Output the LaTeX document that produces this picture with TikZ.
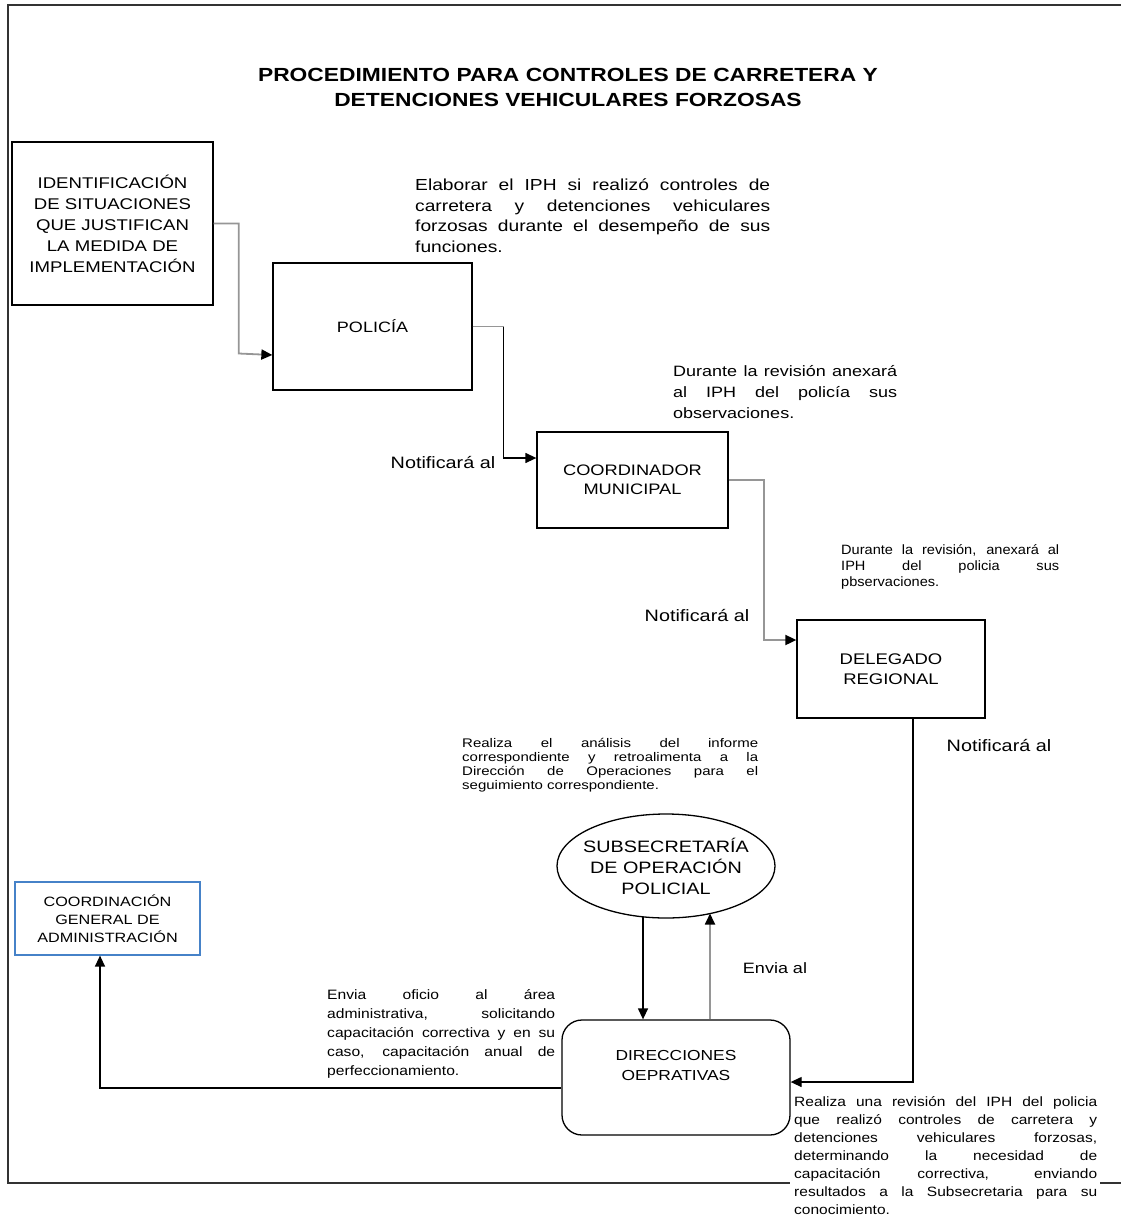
\documentclass[tikz,border=0pt]{standalone}
\usepackage{fontspec}
\setmainfont[FakeStretch=1.2]{Liberation Sans}
\newfontfamily\fb[FakeStretch=1.15]{Liberation Sans}
\newfontfamily\fc[FakeStretch=1.08]{Liberation Sans}
\usetikzlibrary{shapes.geometric,arrows.meta,calc}
\definecolor{conngray}{RGB}{150,150,150}
\definecolor{cgablue}{RGB}{70,130,200}
\hyphenpenalty=10000
\exhyphenpenalty=10000
\tolerance=9999
\hbadness=10000
\begin{document}
\begin{tikzpicture}[x=1pt,y=-1pt,
  box/.style={draw, line width=1.3pt, align=center, inner sep=0pt, font=\fontsize{15}{20}\selectfont},
  note/.style={anchor=north west, inner sep=0pt, align=justify},
  lbl/.style={inner sep=0pt, font=\fontsize{16.5}{19}\selectfont},
  tip/.style={-{Triangle[length=11pt,width=10pt,color=black]}},
  gline/.style={draw=conngray, line width=1.8pt},
  bline/.style={draw=black, line width=1.3pt}]
\useasboundingbox (0,0) rectangle (1120,1220);
% frame
\draw[line width=1.6pt, black!80] (1125,5) -- (8,5) -- (8,1183) -- (790,1183);
\draw[line width=1.6pt, black!80] (1100,1183) -- (1125,1183);
% title
\node[inner sep=0pt, align=center, font=\fontsize{19}{25}\bfseries] (title) at (568,87)
  {PROCEDIMIENTO PARA CONTROLES DE CARRETERA Y\\DETENCIONES VEHICULARES FORZOSAS};
% boxes
\node[box, minimum width=201pt, minimum height=163pt, font=\fontsize{15.5}{21}\selectfont] (ident) at (112.5,223.5)
  {IDENTIFICACIÓN\\DE SITUACIONES\\QUE JUSTIFICAN\\LA MEDIDA DE\\IMPLEMENTACIÓN};
\node[box, minimum width=199pt, minimum height=127pt] (pol) at (372.5,326.5) {POLICÍA};
\node[box, minimum width=191pt, minimum height=96pt, font=\fontsize{15.2}{19}\selectfont] (coord) at (632.5,480) {COORDINADOR\\MUNICIPAL};
\node[box, minimum width=188pt, minimum height=98pt, font=\fontsize{15.4}{20}\selectfont] (deleg) at (891,669) {DELEGADO\\REGIONAL};
\node[box, ellipse, inner xsep=-6pt, inner ysep=0pt, minimum width=218pt, minimum height=104pt, font=\fontsize{16.5}{21}\selectfont] (subs) at (666,866)
  {SUBSECRETARÍA\\DE OPERACIÓN\\POLICIAL};
\node[box, rounded corners=20pt, minimum width=228pt, minimum height=115pt, font=\fontsize{14.5}{20}\selectfont] (direc) at (676,1077.5)
  {DIRECCIONES\\OEPRATIVAS\\[4pt]};
\node[box, draw=cgablue, line width=1.2pt, minimum width=185pt, minimum height=73pt, font=\fontsize{13.5}{18}\selectfont] (cga) at (107.5,918.5)
  {COORDINACIÓN\\GENERAL DE\\ADMINISTRACIÓN};
% notes
\node[note, text width=355pt, font=\fontsize{16}{20.5}\selectfont] (n1) at (415,179)
  {Elaborar el IPH si realizó controles de\linebreak carretera y detenciones vehiculares\linebreak forzosas durante el desempeño de sus\linebreak funciones.};
\node[note, text width=224pt, font=\fontsize{15}{21}\selectfont] (n2) at (673,365)
  {Durante la revisión anexará\linebreak al IPH del policía sus\linebreak observaciones.};
\node[note, text width=218pt, font=\fc\fontsize{13.5}{16}\selectfont] (n3) at (841,544)
  {Durante la revisión, anexará al\linebreak IPH del policia sus\linebreak pbservaciones.};
\node[note, text width=296pt, font=\fontsize{12.5}{14}\selectfont] (n4) at (462,738)
  {Realiza el análisis del informe\linebreak correspondiente y retroalimenta a la\linebreak Dirección de Operaciones para el\linebreak seguimiento correspondiente.};
\node[note, text width=228pt, font=\fb\fontsize{13.6}{19}\selectfont] (n5) at (327,989)
  {Envia oficio al área\linebreak administrativa, solicitando\linebreak capacitación correctiva y en su\linebreak caso, capacitación anual de\linebreak perfeccionamiento.};
\node[note, text width=303pt, font=\fb\fontsize{13.5}{18}\selectfont] (n6) at (794,1096)
  {Realiza una revisión del IPH del policia\linebreak que realizó controles de carretera y\linebreak detenciones vehiculares forzosas,\linebreak determinando la necesidad de\linebreak capacitación correctiva, enviando\linebreak resultados a la Subsecretaria para su\linebreak conocimiento.};
% labels
\node[lbl] (l1) at (443,463) {Notificará al};
\node[lbl] (l2) at (697,615) {Notificará al};
\node[lbl] (l3) at (999,745) {Notificará al};
\node[lbl, font=\fontsize{15}{18}\selectfont] (l4) at (775,968) {Envia al};
% connectors
\draw[gline, tip] (ident.east) -| ++(25,130) -- ([yshift=-28.5pt]pol.west);
\coordinate (k2) at ([xshift=31pt]pol.east);
\draw[gline] (pol.east) -- (k2);
\draw[bline, tip] (k2) |- ([yshift=22pt]coord.west);
\draw[gline, tip] (coord.east) -| ++(35,160) -- ([yshift=29pt]deleg.west);
\draw[bline, tip] ([xshift=22pt]deleg.south) |- ([yshift=-4.5pt]direc.east);
\draw[bline, tip] ($(subs.center)+(-23,51)$) -- ([xshift=-33pt]direc.north);
\draw[gline, tip] ([xshift=34pt]direc.north) -- ($(subs.center)+(44,47.5)$);
\draw[bline, tip] ([yshift=-10.5pt]direc.west) -| ([xshift=-7.5pt]cga.south);
\end{tikzpicture}
\end{document}
